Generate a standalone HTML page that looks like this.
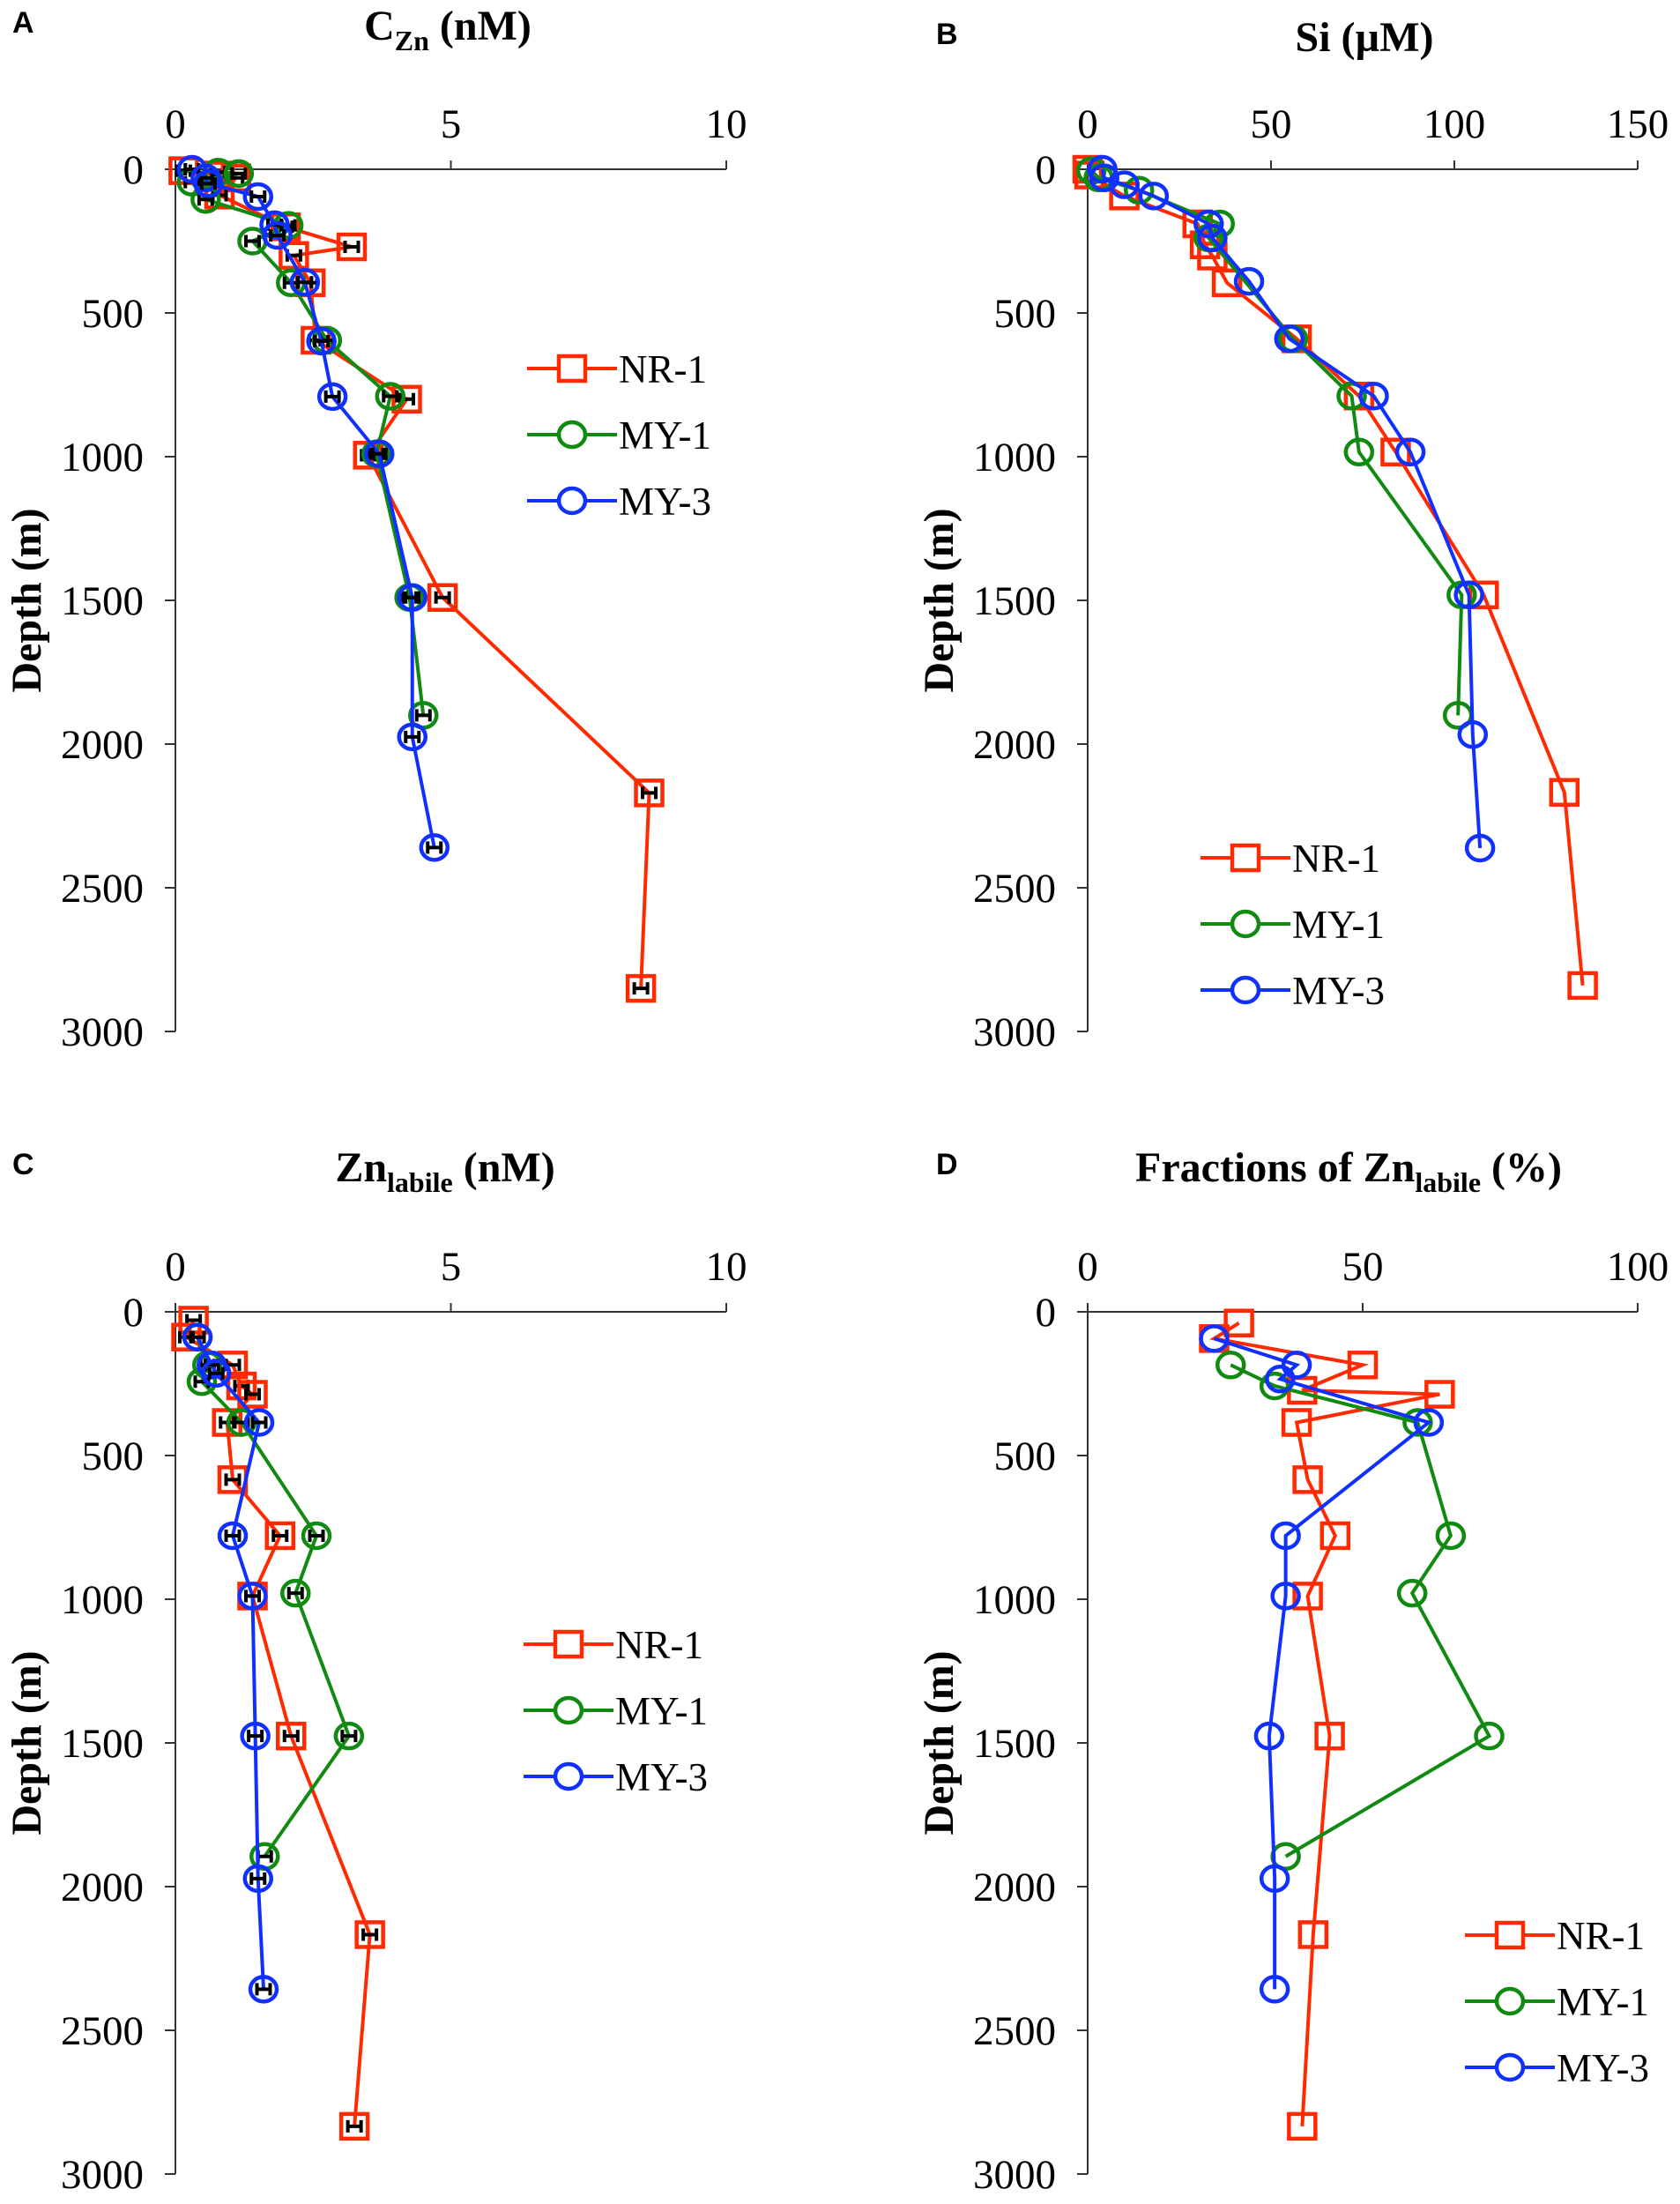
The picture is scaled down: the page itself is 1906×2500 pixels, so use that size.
<!DOCTYPE html>
<html><head><meta charset="utf-8"><style>
html,body{margin:0;padding:0;background:#fff;}
svg{display:block;}
svg text{font-family:"Liberation Serif","Times New Roman",serif;}
.tick{font-size:47px;fill:#000;}
.ttl{font-size:48px;font-weight:bold;fill:#000;}
svg text.let{font-family:"Liberation Sans",Arial,sans-serif;font-size:34px;font-weight:bold;fill:#000;}
.leg{font-size:45px;fill:#000;}
</style></head><body>
<svg id="fig" width="1906" height="2500" viewBox="0 0 1906 2500" xmlns="http://www.w3.org/2000/svg"></svg>
<script>
// Panel A: C_Zn (nM)
const aNR1Depth=[5,20,30,90,200,270,300,395,595,800,995,1490,2170,2850];
const aNR1Val=[0.15,0.8,1.1,0.8,2.0,3.2,2.15,2.45,2.55,4.2,3.5,4.85,8.6,8.45];
const aMY1Depth=[10,15,45,105,195,250,395,595,790,990,1490,1900];
const aMY1Val=[0.78,1.15,0.3,0.55,2.05,1.4,2.1,2.75,3.9,3.65,4.25,4.5];
const aMY3Depth=[0,30,50,95,193,230,393,598,791,990,1490,1975,2360];
const aMY3Val=[0.3,0.55,0.6,1.5,1.8,1.85,2.35,2.65,2.85,3.7,4.3,4.3,4.7];
// Panel B: Si (uM)
const bNR1Depth=[0,20,93,190,263,302,395,590,789,984,1481,2168,2840];
const bNR1Val=[0,0.5,10,30,32,34,38,57,74,84,108,130,135];
const bMY1Depth=[5,30,73,190,239,590,789,984,1481,1900];
const bMY1Val=[1,3,14,36,33,56,72,74,102,101];
const bMY3Depth=[0,30,54,93,190,239,390,590,789,984,1481,1967,2362];
const bMY3Val=[4,4.5,10,18,33,34,44,55,78,88,104,105,107];
// Panel C: Zn labile (nM)
const cNR1Depth=[29,88,185,258,287,385,584,779,989,1476,2167,2834];
const cNR1Val=[0.33,0.2,1.04,1.2,1.4,0.94,1.04,1.9,1.4,2.1,3.53,3.25];
const cMY1Depth=[88,185,243,385,779,979,1476,1895];
const cMY1Val=[0.4,0.58,0.48,1.2,2.56,2.18,3.15,1.62];
const cMY3Depth=[88,185,214,385,779,989,1476,1972,2357];
const cMY3Val=[0.4,0.66,0.74,1.52,1.04,1.4,1.45,1.5,1.6];
// Panel D: fractions (%)
const dNR1Depth=[39,93,185,273,287,385,584,779,989,1476,2167,2834];
const dNR1Val=[27.5,23,50,39,64,38,40,45,40,44,41,39];
const dMY1Depth=[185,258,385,779,979,1476,1895];
const dMY1Val=[26,34,60,66,59,73,36];
const dMY3Depth=[93,185,234,385,779,989,1476,1972,2357];
const dMY3Val=[23,38,35,62,36,36,33,34,34];
const depthTicks=[0,500,1000,1500,2000,2500,3000];
const ticksNM=[0,5,10], ticksSi=[0,50,100,150], ticksPct=[0,50,100];
const seriesNames=["NR-1","MY-1","MY-3"];

const NS="http://www.w3.org/2000/svg";
const svg=document.getElementById('fig');
const COL={"NR-1":"#ff2a00","MY-1":"#108a10","MY-3":"#1030ff"};
function mk(tag,at,parent){const e=document.createElementNS(NS,tag);for(const k in at)e.setAttribute(k,at[k]);(parent||svg).appendChild(e);return e;}

function panel(o){
  const g=mk('g',{});
  
  
  const xs=v=>o.x0+(v/o.xmax)*(o.x1-o.x0);
  const ys=d=>o.y0+(d/3000)*(o.y1-o.y0);
  const xa=mk('line',{x1:o.x0,y1:o.y0,x2:o.x1,y2:o.y0,stroke:'#333','stroke-width':2},g);
  
  
  const ya=mk('line',{x1:o.x0,y1:o.y0-8,x2:o.x0,y2:o.y1,stroke:'#333','stroke-width':2},g);
  
  
  o.xt.forEach(t=>{
    mk('line',{x1:xs(t),y1:o.y0,x2:xs(t),y2:o.y0-10,stroke:'#333','stroke-width':2},g);
    const tx=mk('text',{x:xs(t),y:o.y0-36,'text-anchor':'middle',class:'tick'},g);
    tx.textContent=t;
    
    
  });
  depthTicks.forEach(t=>{
    mk('line',{x1:o.x0-12,y1:ys(t),x2:o.x0,y2:ys(t),stroke:'#333','stroke-width':2},g);
    const tx=mk('text',{x:o.x0-36,y:ys(t)+16,'text-anchor':'end',class:'tick'},g);
    tx.textContent=t;
    
    
  });
  const yt=mk('text',{x:0,y:0,transform:`translate(${o.x0-153},${(o.y0+o.y1)/2}) rotate(-90)`,'text-anchor':'middle',class:'ttl','font-size':'48'},g);
  yt.textContent='Depth (m)';
  
  
  const tt=mk('text',{x:o.tx,y:o.ty,'text-anchor':'middle',class:'ttl'},g);
  tt.innerHTML=o.title;
  
  
  const lt=mk('text',{x:o.lx,y:o.ty-8,class:'let'},g);
  lt.textContent=o.letter;
  
  
  o.series.forEach((s,i)=>{
    const name=seriesNames[i], c=COL[name];
    const sg=mk('g',{},g);
    
    
    const pts=s.d.map((d,j)=>xs(s.v[j])+','+ys(d)).join(' ');
    mk('polyline',{points:pts,fill:'none',stroke:c,'stroke-width':4,'stroke-linejoin':'miter'},sg);
    s.d.forEach((d,j)=>{
      const x=xs(s.v[j]),y=ys(d);
      if(o.err){
        const e=(o.x1-o.x0)*0.012;
        mk('path',{d:`M${x-e},${y}H${x+e}M${x-e},${y-7}V${y+7}M${x+e},${y-7}V${y+7}`,stroke:'#000','stroke-width':4,fill:'none'},sg);
      }
      let m;
      if(i===0) m=mk('rect',{x:x-15,y:y-14,width:30,height:28,fill:'none',stroke:c,'stroke-width':4.5},sg);
      else m=mk('ellipse',{cx:x,cy:y,rx:15,ry:14,fill:'none',stroke:c,'stroke-width':4.5},sg);
      
      
    });
  });
  seriesNames.forEach((n,i)=>{
    const c=COL[n], y=o.legY+i*75;
    const lg=mk('g',{},g);
    
    
    mk('line',{x1:o.legX,y1:y,x2:o.legX+102,y2:y,stroke:c,'stroke-width':4},lg);
    if(i===0) mk('rect',{x:o.legX+36,y:y-14,width:30,height:28,fill:'#fff',stroke:c,'stroke-width':4.5},lg);
    else mk('ellipse',{cx:o.legX+51,cy:y,rx:15,ry:14,fill:'#fff',stroke:c,'stroke-width':4.5},lg);
    const t=mk('text',{x:o.legX+104,y:y+16,class:'leg'},lg);
    t.textContent=n;
  });
}
const sub=s=>`<tspan font-size="32" dy="12">${s}</tspan><tspan dy="-12"> </tspan>`;
panel({id:'panel-a',letter:'A',x0:199,x1:824,y0:192,y1:1170,xmax:10,xt:ticksNM,err:true,
  title:'C'+sub('Zn')+'(nM)',tx:508,ty:45,lx:14,legX:598,legY:418,
  series:[{d:aNR1Depth,v:aNR1Val},{d:aMY1Depth,v:aMY1Val},{d:aMY3Depth,v:aMY3Val}]});
panel({id:'panel-b',letter:'B',x0:1234,x1:1858,y0:192,y1:1170,xmax:150,xt:ticksSi,err:false,
  title:'Si (µM)',tx:1548,ty:58,lx:1062,legX:1362,legY:973,
  series:[{d:bNR1Depth,v:bNR1Val},{d:bMY1Depth,v:bMY1Val},{d:bMY3Depth,v:bMY3Val}]});
panel({id:'panel-c',letter:'C',x0:199,x1:824,y0:1488,y1:2466,xmax:10,xt:ticksNM,err:true,
  title:'Zn'+sub('labile')+'(nM)',tx:505,ty:1340,lx:14,legX:594,legY:1865,
  series:[{d:cNR1Depth,v:cNR1Val},{d:cMY1Depth,v:cMY1Val},{d:cMY3Depth,v:cMY3Val}]});
panel({id:'panel-d',letter:'D',x0:1234,x1:1858,y0:1488,y1:2466,xmax:100,xt:ticksPct,err:false,
  title:'Fractions of Zn'+sub('labile')+'(%)',tx:1530,ty:1340,lx:1062,legX:1662,legY:2195,
  series:[{d:dNR1Depth,v:dNR1Val},{d:dMY1Depth,v:dMY1Val},{d:dMY3Depth,v:dMY3Val}]});
</script>
</body></html>
